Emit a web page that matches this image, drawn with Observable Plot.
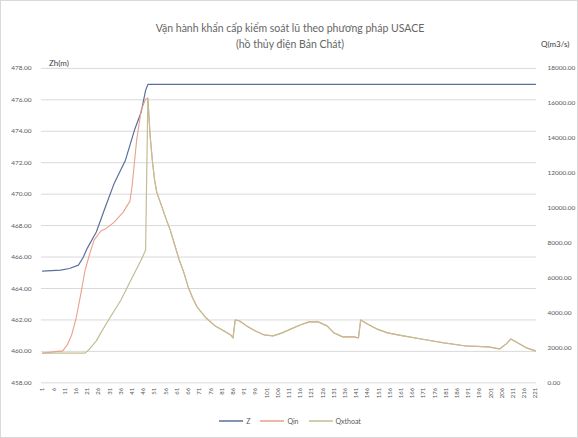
<!DOCTYPE html>
<html><head><meta charset="utf-8">
<script src="https://cdn.jsdelivr.net/npm/d3@7"></script>
<script src="https://cdn.jsdelivr.net/npm/@observablehq/plot@0.6"></script>
<style>
body{margin:0;background:#fff;}
#chart{position:relative;width:578px;height:438px;box-sizing:border-box;border:1px solid #d9d9d9;font-family:Lato,"Liberation Sans",sans-serif;color:#595959;overflow:hidden;background:#fff;}
.title{position:absolute;left:0;width:578px;text-align:center;font-size:10.5px;color:#666;}
.atitle{position:absolute;font-size:8px;color:#404040;}
#plot{position:absolute;left:-1px;top:-1px;}
#legend{position:absolute;top:416px;left:0;width:578px;display:flex;justify-content:center;gap:10px;font-size:7px;color:#595959;}
#legend span.item{display:flex;align-items:center;gap:3px;}
</style></head><body>
<div id="chart">
  <div class="title" style="top:21px">Vận hành khẩn cấp kiểm soát lũ theo phương pháp USACE</div>
  <div class="title" style="top:37px">(hồ thủy điện Bản Chát)</div>
  <div class="atitle" style="left:48px;top:57px">Zh(m)</div>
  <div class="atitle" style="left:540px;top:38px">Q(m3/s)</div>
  <div id="plot"></div>
  <div id="legend"></div>
</div>
<script>
// Series names and colours
const seriesNames = ["Z", "Qin", "Qxthoat"];
const seriesColors = ["#5a6f9e", "#e9a08c", "#c2bd93"];

// Axis tick values
const zTicks = [458, 460, 462, 464, 466, 468, 470, 472, 474, 476, 478];
const qTicks = [0, 2000, 4000, 6000, 8000, 10000, 12000, 14000, 16000, 18000];
const xTickLabels = [1,6,11,16,21,26,31,36,41,46,51,56,61,66,71,76,81,86,91,96,101,106,111,116,121,126,131,136,141,146,151,156,161,166,171,176,181,186,191,196,201,206,211,216,221];

// Z (water level, m) : time step and value
const zT = [1, 9, 13, 17, 19, 21, 25, 29, 33, 38, 42, 45, 47, 48, 221];
const zV = [465.11, 465.17, 465.27, 465.49, 465.94, 466.57, 467.59, 469.17, 470.70, 472.16, 474.06, 475.21, 476.60, 476.98, 476.98];

// Qin rising limb (before the reservoir is full)
const qinT = [1, 10, 12, 14, 16, 18, 20, 22, 24, 27, 29, 33, 37, 40, 41, 43, 45, 47];
const qinV = [1700, 1830, 2170, 2740, 3710, 5030, 6460, 7370, 8170, 8690, 8800, 9200, 9770, 10400, 11310, 13890, 15600, 16240];

// Qxthoat before the reservoir is full
const qoutT = [1, 20, 22, 25, 27, 31, 36, 40, 45, 47];
const qoutV = [1700, 1700, 1940, 2400, 2860, 3710, 4740, 5770, 7030, 7600];

// After the peak both discharges coincide
const qAfterT = [48, 49, 50, 51, 52, 54, 56, 58, 60, 62, 64, 66, 68, 70, 74, 78, 82, 85, 86, 87, 89, 92, 96, 100, 104, 108, 112, 116, 120, 124, 128, 131, 135, 140, 142, 143, 146, 150, 155, 162, 170, 180, 190, 200, 205, 208, 210, 213, 217, 221];
const qAfterV = [16300, 14170, 12740, 11600, 10900, 10170, 9430, 8740, 7890, 7030, 6340, 5490, 4860, 4340, 3710, 3260, 2970, 2740, 2570, 3600, 3540, 3260, 2970, 2740, 2690, 2860, 3090, 3310, 3490, 3490, 3260, 2860, 2630, 2630, 2570, 3600, 3370, 3090, 2860, 2690, 2510, 2290, 2110, 2060, 1940, 2230, 2510, 2290, 2000, 1830];

const zData = zT.map((t, i) => ({t, v: zV[i]}));
const qinData = qinT.map((t, i) => ({t, q: qinV[i]})).concat(qAfterT.map((t, i) => ({t, q: qAfterV[i]})));
const qoutData = qoutT.map((t, i) => ({t, q: qoutV[i]})).concat(qAfterT.map((t, i) => ({t, q: qAfterV[i]})));

// secondary axis mapping: Q (0..18000) onto Z (458..478)
const qToZ = q => 458 + q / 900;
const zToQ = z => Math.round((z - 458) * 900);

const chart = Plot.plot({
  width: 578, height: 438,
  marginTop: 68, marginBottom: 55, marginLeft: 41, marginRight: 41,
  style: {fontFamily: "Lato, 'Liberation Sans', sans-serif", color: "#595959", background: "transparent"},
  x: {type: "linear", domain: [0.5, 221.5]},
  y: {domain: [458, 478]},
  marks: [
    Plot.gridY(zTicks, {stroke: "#d9d9d9", strokeOpacity: 1}),
    Plot.axisY(zTicks, {anchor: "left", tickSize: 0, tickPadding: 10, tickFormat: d => d.toFixed(2), label: null, fontSize: 6.5}),
    Plot.axisY(qTicks.map(qToZ), {anchor: "right", tickSize: 0, tickPadding: 11, tickFormat: z => zToQ(z).toFixed(2), label: null, fontSize: 6.5}),
    Plot.axisX(xTickLabels, {tickRotate: -90, tickSize: 0, tickPadding: 5, label: null, fontSize: 6}),
    Plot.line(zData, {x: "t", y: "v", stroke: seriesColors[0], strokeWidth: 1.2}),
    Plot.line(qinData, {x: "t", y: d => qToZ(d.q), stroke: seriesColors[1], strokeWidth: 1.1}),
    Plot.line(qoutData, {x: "t", y: d => qToZ(d.q), stroke: seriesColors[2], strokeWidth: 1.2})
  ]
});
document.getElementById("plot").appendChild(chart);

const legend = document.getElementById("legend");
seriesNames.forEach((n, i) => {
  const item = document.createElement("span");
  item.className = "item";
  item.innerHTML = `<svg width="24" height="6"><line x1="0" y1="3" x2="24" y2="3" stroke="${seriesColors[i]}" stroke-width="1.5"/></svg><span>${n}</span>`;
  legend.appendChild(item);
});
</script>
</body></html>
